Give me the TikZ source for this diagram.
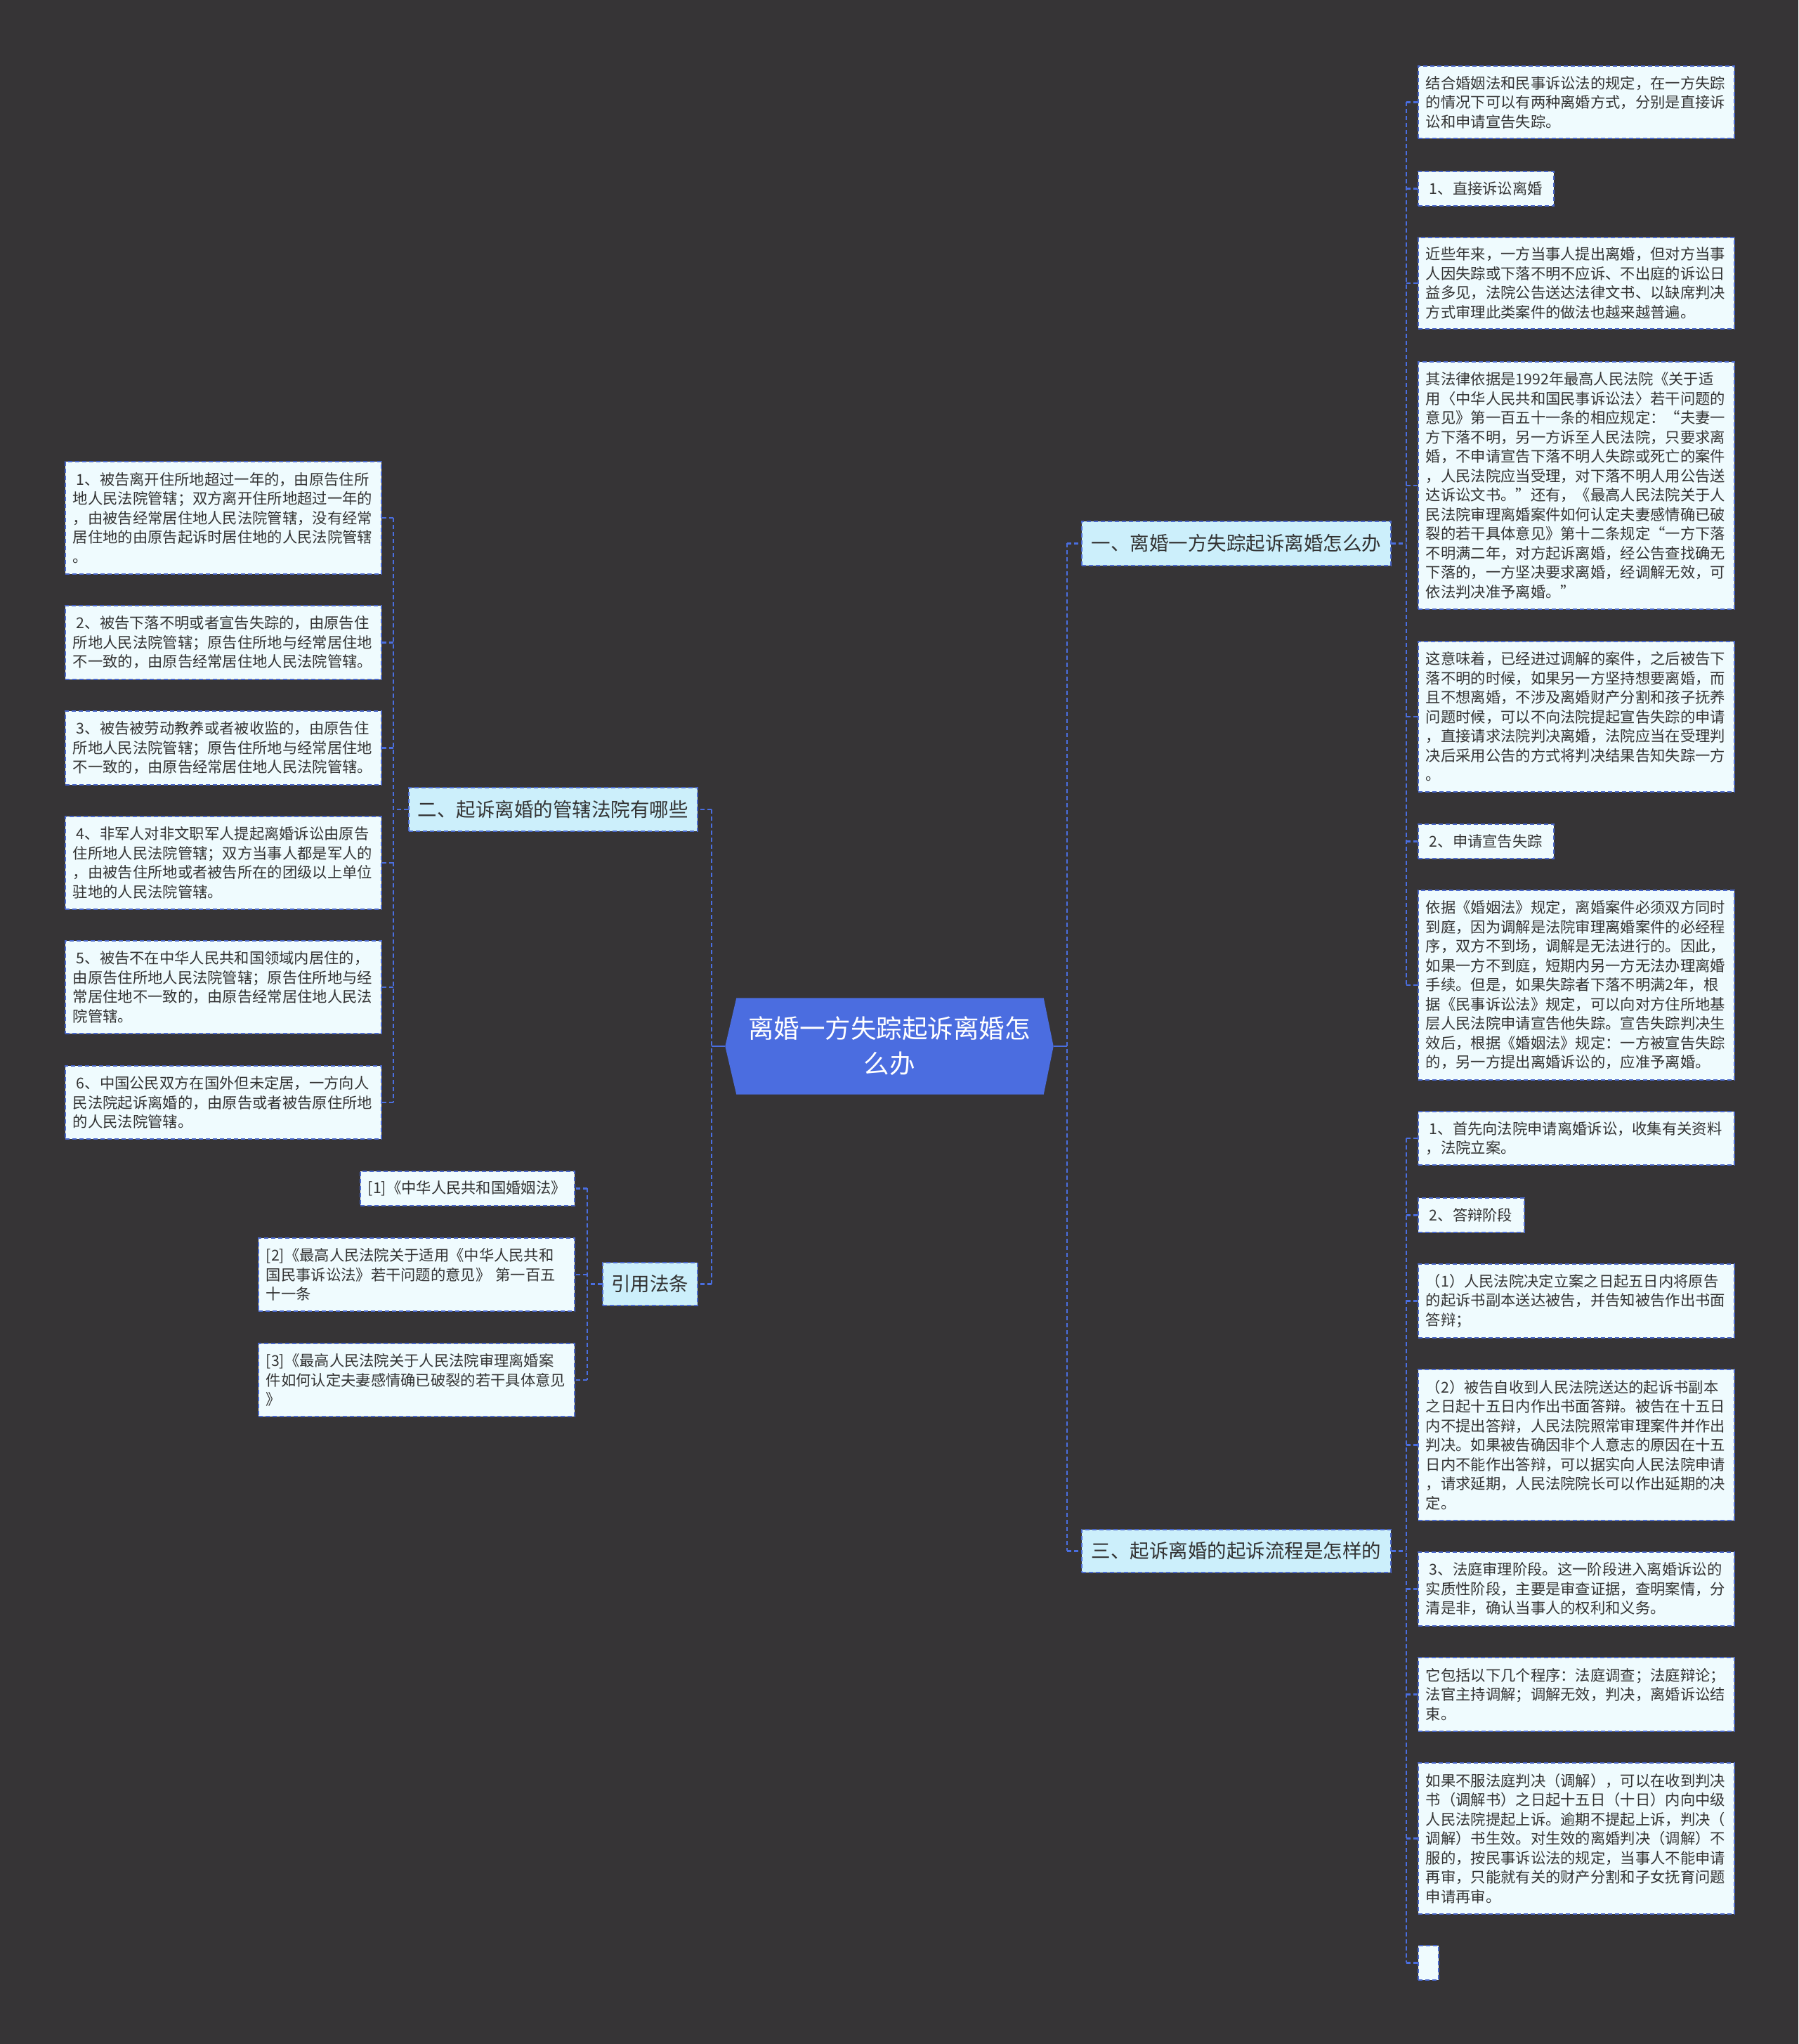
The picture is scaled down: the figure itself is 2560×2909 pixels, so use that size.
\documentclass[tikz,border=0pt]{standalone}
\usepackage{fontspec}
\setmainfont{Noto Sans CJK SC}
\usetikzlibrary{calc,backgrounds}
\definecolor{bg}{HTML}{363436}
\definecolor{leaffill}{HTML}{EFFBFE}
\definecolor{branchfill}{HTML}{CCEFFB}
\definecolor{edge}{HTML}{4A68CC}
\definecolor{linec}{HTML}{4A6EE0}
\definecolor{rootfill}{HTML}{4B6DE0}
\definecolor{txt}{HTML}{333333}
\begin{document}
\begin{tikzpicture}[x=1pt,y=-1pt,
  boxbase/.style={draw=edge, dash pattern=on 6pt off 4pt, line width=1.9pt, anchor=north west, inner ysep=0pt, text=txt},
  leaf/.style={boxbase, fill=leaffill, inner xsep=11pt, align=left, font=\fontsize{21.3}{27.5}\selectfont},
  branch/.style={boxbase, fill=branchfill, inner xsep=6pt, align=center, font=\fontsize{27.5}{32}\selectfont},
  rootnode/.style={minimum width=467pt, minimum height=137pt, inner sep=0pt, align=center, text=white, font=\fontsize{36.5}{50}\selectfont},
  conn/.style={draw=linec, line width=2.2pt, dash pattern=on 6pt off 4pt},
  connsolid/.style={draw=linec, line width=2.6pt}
]
\useasboundingbox (0,0) rectangle (2560,2909);
% root
\node[rootnode] (root) at (1266,1489) {离婚一方失踪起诉离婚怎\\么办};
\begin{pgfonlayer}{background}
\fill[bg] (0,0) rectangle (2560,2909);
\fill[rootfill] (root.west) -- ($(root.north west)+(16,0)$) -- ($(root.north east)+(-14,0)$) -- (root.east) -- ($(root.south east)+(-14,0)$) -- ($(root.south west)+(16,0)$) -- cycle;
\end{pgfonlayer}

% branches
\node[branch, minimum width=440pt, minimum height=63pt, text width=428pt] (b1) at (1539,741) {一、离婚一方失踪起诉离婚怎么办};
\node[branch, minimum width=440pt, minimum height=61pt, text width=428pt] (b3) at (1539,2176) {三、起诉离婚的起诉流程是怎样的};
\node[branch, minimum width=411pt, minimum height=62pt, text width=399pt] (b2) at (581,1120) {二、起诉离婚的管辖法院有哪些};
\node[branch, minimum width=135pt, minimum height=61pt, text width=123pt] (b4) at (857,1796) {引用法条};

% branch 1 leaves
\node[leaf, minimum height=103pt, text width=428pt] (a1) at (2018,93) {结合婚姻法和民事诉讼法的规定，在一方失踪\\的情况下可以有两种离婚方式，分别是直接诉\\讼和申请宣告失踪。};
\node[leaf, minimum height=49pt, text width=171pt] (a2) at (2018,243) {\hspace*{5pt}1、直接诉讼离婚};
\node[leaf, minimum height=130pt, text width=428pt] (a3) at (2018,337) {近些年来，一方当事人提出离婚，但对方当事\\人因失踪或下落不明不应诉、不出庭的诉讼日\\益多见，法院公告送达法律文书、以缺席判决\\方式审理此类案件的做法也越来越普遍。};
\node[leaf, minimum height=352pt, text width=428pt] (a4) at (2018,514) {其法律依据是1992年最高人民法院《关于适\\用〈中华人民共和国民事诉讼法〉若干问题的\\意见》第一百五十一条的相应规定：“夫妻一\\方下落不明，另一方诉至人民法院，只要求离\\婚，不申请宣告下落不明人失踪或死亡的案件\\，人民法院应当受理，对下落不明人用公告送\\达诉讼文书。”还有，《最高人民法院关于人\\民法院审理离婚案件如何认定夫妻感情确已破\\裂的若干具体意见》第十二条规定“一方下落\\不明满二年，对方起诉离婚，经公告查找确无\\下落的，一方坚决要求离婚，经调解无效，可\\依法判决准予离婚。”};
\node[leaf, minimum height=214pt, text width=428pt] (a5) at (2018,912) {这意味着，已经进过调解的案件，之后被告下\\落不明的时候，如果另一方坚持想要离婚，而\\且不想离婚，不涉及离婚财产分割和孩子抚养\\问题时候，可以不向法院提起宣告失踪的申请\\，直接请求法院判决离婚，法院应当在受理判\\决后采用公告的方式将判决结果告知失踪一方\\。};
\node[leaf, minimum height=49pt, text width=171pt] (a6) at (2018,1172) {\hspace*{5pt}2、申请宣告失踪};
\node[leaf, minimum height=270pt, text width=428pt] (a7) at (2018,1266) {依据《婚姻法》规定，离婚案件必须双方同时\\到庭，因为调解是法院审理离婚案件的必经程\\序，双方不到场，调解是无法进行的。因此，\\如果一方不到庭，短期内另一方无法办理离婚\\手续。但是，如果失踪者下落不明满2年，根\\据《民事诉讼法》规定，可以向对方住所地基\\层人民法院申请宣告他失踪。宣告失踪判决生\\效后，根据《婚姻法》规定：一方被宣告失踪\\的，另一方提出离婚诉讼的，应准予离婚。};

% branch 3 leaves
\node[leaf, minimum height=76pt, text width=428pt] (c1) at (2018,1581) {\hspace*{5pt}1、首先向法院申请离婚诉讼，收集有关资料\\，法院立案。};
\node[leaf, minimum height=49pt, text width=129pt] (c2) at (2018,1704) {\hspace*{5pt}2、答辩阶段};
\node[leaf, minimum height=105pt, text width=428pt] (c3) at (2018,1798) {（1）人民法院决定立案之日起五日内将原告\\的起诉书副本送达被告，并告知被告作出书面\\答辩；};
\node[leaf, minimum height=215pt, text width=428pt] (c4) at (2018,1948) {（2）被告自收到人民法院送达的起诉书副本\\之日起十五日内作出书面答辩。被告在十五日\\内不提出答辩，人民法院照常审理案件并作出\\判决。如果被告确因非个人意志的原因在十五\\日内不能作出答辩，可以据实向人民法院申请\\，请求延期，人民法院院长可以作出延期的决\\定。};
\node[leaf, minimum height=105pt, text width=428pt] (c5) at (2018,2208) {\hspace*{5pt}3、法庭审理阶段。这一阶段进入离婚诉讼的\\实质性阶段，主要是审查证据，查明案情，分\\清是非，确认当事人的权利和义务。};
\node[leaf, minimum height=105pt, text width=428pt] (c6) at (2018,2358) {它包括以下几个程序：法庭调查；法庭辩论；\\法官主持调解；调解无效，判决，离婚诉讼结\\束。};
\node[leaf, minimum height=215pt, text width=428pt] (c7) at (2018,2508) {如果不服法庭判决（调解），可以在收到判决\\书（调解书）之日起十五日（十日）内向中级\\人民法院提起上诉。逾期不提起上诉，判决（\\调解）书生效。对生效的离婚判决（调解）不\\服的，按民事诉讼法的规定，当事人不能申请\\再审，只能就有关的财产分割和子女抚育问题\\申请再审。};
\node[leaf, minimum height=49pt, text width=7pt, inner xsep=11pt] (c8) at (2018,2768) {};

% branch 2 leaves
\node[leaf, minimum height=160pt, text width=428pt] (d1) at (92,656) {\hspace*{5pt}1、被告离开住所地超过一年的，由原告住所\\地人民法院管辖；双方离开住所地超过一年的\\，由被告经常居住地人民法院管辖，没有经常\\居住地的由原告起诉时居住地的人民法院管辖\\。};
\node[leaf, minimum height=105pt, text width=428pt] (d2) at (92,861) {\hspace*{5pt}2、被告下落不明或者宣告失踪的，由原告住\\所地人民法院管辖；原告住所地与经常居住地\\不一致的，由原告经常居住地人民法院管辖。};
\node[leaf, minimum height=105pt, text width=428pt] (d3) at (92,1011) {\hspace*{5pt}3、被告被劳动教养或者被收监的，由原告住\\所地人民法院管辖；原告住所地与经常居住地\\不一致的，由原告经常居住地人民法院管辖。};
\node[leaf, minimum height=132pt, text width=428pt] (d4) at (92,1161) {\hspace*{5pt}4、非军人对非文职军人提起离婚诉讼由原告\\住所地人民法院管辖；双方当事人都是军人的\\，由被告住所地或者被告所在的团级以上单位\\驻地的人民法院管辖。};
\node[leaf, minimum height=132pt, text width=428pt] (d5) at (92,1338) {\hspace*{5pt}5、被告不在中华人民共和国领域内居住的，\\由原告住所地人民法院管辖；原告住所地与经\\常居住地不一致的，由原告经常居住地人民法\\院管辖。};
\node[leaf, minimum height=104pt, text width=428pt] (d6) at (92,1516) {\hspace*{5pt}6、中国公民双方在国外但未定居，一方向人\\民法院起诉离婚的，由原告或者被告原住所地\\的人民法院管辖。};

% references
\node[leaf, minimum height=49pt, text width=283pt] (r1) at (512,1666) {[1]《中华人民共和国婚姻法》};
\node[leaf, minimum height=104pt, text width=428pt] (r2) at (367,1761) {[2]《最高人民法院关于适用《中华人民共和\\国民事诉讼法》若干问题的意见》 第一百五\\十一条};
\node[leaf, minimum height=104pt, text width=428pt] (r3) at (367,1911) {[3]《最高人民法院关于人民法院审理离婚案\\件如何认定夫妻感情确已破裂的若干具体意见\\》};

% connectors: root
\coordinate (kR) at ($(root.east)+(19,0)$);
\coordinate (kL) at ($(root.west)+(-19,0)$);
\draw[connsolid] (root.east) -- (kR);
\draw[connsolid] (root.west) -- (kL);
\draw[conn] (kR |- b1.west) -- (kR |- b3.west);
\draw[conn] (kR |- b1.west) -- (b1.west);
\draw[conn] (kR |- b3.west) -- (b3.west);
\draw[conn] (kL |- b2.east) -- (kL |- b4.east);
\draw[conn] (kL |- b2.east) -- (b2.east);
\draw[conn] (kL |- b4.east) -- (b4.east);

% branch 1
\coordinate (k1) at ($(b1.east)+(21,0)$);
\draw[conn] (b1.east) -- (k1);
\draw[conn] (k1 |- a1.west) -- (k1 |- a7.west);
\foreach \n in {a1,a2,a3,a4,a5,a6,a7} \draw[conn] (k1 |- \n.west) -- (\n.west);

% branch 3
\coordinate (k3) at ($(b3.east)+(21,0)$);
\draw[conn] (b3.east) -- (k3);
\draw[conn] (k3 |- c1.west) -- (k3 |- c8.west);
\foreach \n in {c1,c2,c3,c4,c5,c6,c7,c8} \draw[conn] (k3 |- \n.west) -- (\n.west);

% branch 2
\coordinate (k2) at ($(b2.west)+(-21,0)$);
\draw[conn] (b2.west) -- (k2);
\draw[conn] (k2 |- d1.east) -- (k2 |- d6.east);
\foreach \n in {d1,d2,d3,d4,d5,d6} \draw[conn] (k2 |- \n.east) -- (\n.east);

% references
\coordinate (k4) at ($(b4.west)+(-21,0)$);
\draw[conn] (b4.west) -- (k4);
\draw[conn] (k4 |- r1.east) -- (k4 |- r3.east);
\foreach \n in {r1,r2,r3} \draw[conn] (k4 |- \n.east) -- (\n.east);
\end{tikzpicture}
\end{document}
